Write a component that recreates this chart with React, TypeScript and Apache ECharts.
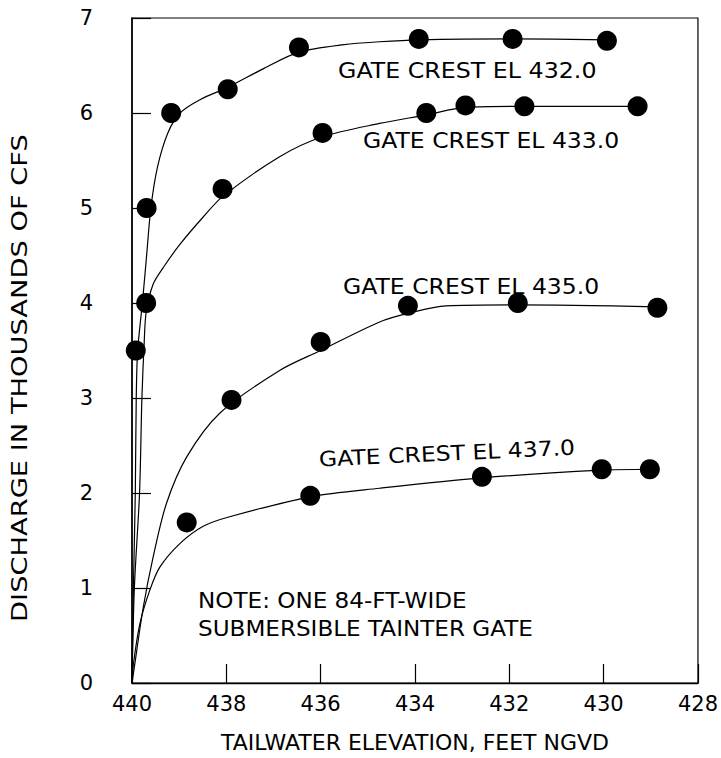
import { useEffect, useRef } from "react";
import * as echarts from "echarts";

// Axis ticks
const xTickValues = [440, 438, 436, 434, 432, 430, 428];
const yTickValues = [0, 1, 2, 3, 4, 5, 6, 7];

// Measured points (tailwater elevation, discharge in 1000 cfs)
const crest432Dots: [number, number][] = [
  [439.92, 3.5], [439.69, 5.0], [439.17, 6.0], [437.97, 6.25],
  [436.46, 6.69], [433.92, 6.78], [431.93, 6.78], [429.93, 6.76],
];
const crest433Dots: [number, number][] = [
  [439.7, 4.0], [438.08, 5.2], [435.96, 5.79], [433.76, 6.0],
  [432.93, 6.08], [431.68, 6.07], [429.28, 6.07],
];
const crest435Dots: [number, number][] = [
  [437.89, 2.98], [436.0, 3.59], [434.15, 3.97], [431.82, 4.0], [428.86, 3.95],
];
const crest437Dots: [number, number][] = [
  [438.84, 1.69], [436.22, 1.97], [432.58, 2.17], [430.04, 2.25], [429.02, 2.25],
];

// Fitted curves
const crest432Curve: [number, number][] = [
  [440, 0], [439.97, 1.0], [439.93, 2.0], [439.91, 3.0], [439.88, 3.5],
  [439.78, 4.0], [439.69, 4.5], [439.6, 5.0], [439.46, 5.43], [439.24, 5.79],
  [438.98, 6.0], [438.56, 6.14], [437.97, 6.27], [437.2, 6.47], [436.46, 6.64],
  [435.5, 6.72], [434.75, 6.75], [433.92, 6.77], [431.93, 6.78], [429.93, 6.77],
];
const crest433Curve: [number, number][] = [
  [440, 0], [439.95, 1.0], [439.84, 2.0], [439.79, 3.0], [439.74, 3.6],
  [439.7, 3.9], [439.55, 4.2], [439.3, 4.4], [438.98, 4.62], [438.5, 4.9],
  [438.08, 5.12], [436.87, 5.54], [435.96, 5.75], [434.75, 5.89], [433.76, 5.98],
  [432.93, 6.06], [431.68, 6.07], [429.28, 6.07],
];
const crest435Curve: [number, number][] = [
  [440, 0], [439.97, 0.1], [439.76, 0.8], [439.55, 1.33], [439.27, 1.89],
  [438.84, 2.38], [438.14, 2.84], [436.87, 3.29], [436.0, 3.5], [434.75, 3.8],
  [434.15, 3.89], [433.34, 3.97], [431.82, 3.98], [428.86, 3.96],
];
const crest437Curve: [number, number][] = [
  [440, 0], [439.97, 0.2], [439.83, 0.63], [439.62, 0.98], [439.41, 1.22],
  [438.98, 1.47], [438.49, 1.65], [437.93, 1.75], [436.22, 1.96], [434.75, 2.05],
  [432.58, 2.16], [430.04, 2.24], [429.02, 2.25],
];

const curveLabels = [
  "GATE CREST EL 432.0",
  "GATE CREST EL 433.0",
  "GATE CREST EL 435.0",
  "GATE CREST EL 437.0",
];
const noteLines = ["NOTE: ONE 84-FT-WIDE", "SUBMERSIBLE TAINTER GATE"];
const xTitle = "TAILWATER ELEVATION, FEET NGVD";
const yTitle = "DISCHARGE IN THOUSANDS OF CFS";

const INK = "#000";
const FONT = "DejaVu Sans";

export default function App() {
  const ref = useRef<HTMLDivElement>(null);

  useEffect(() => {
    document.body.style.margin = "0";
    if (!ref.current) return;
    const chart = echarts.init(ref.current, undefined, { renderer: "svg" });

    const curves = [crest432Curve, crest433Curve, crest435Curve, crest437Curve];
    const dots = [crest432Dots, crest433Dots, crest435Dots, crest437Dots];

    const lineSeries = curves.map((c, i) => ({
      type: "line",
      name: curveLabels[i] + " curve",
      data: c,
      smooth: 0.3,
      showSymbol: false,
      symbol: "none",
      lineStyle: { color: INK, width: 1.2 },
      z: 2,
    }));
    const dotSeries = dots.map((d, i) => ({
      type: "scatter",
      name: curveLabels[i],
      data: d,
      symbol: "circle",
      symbolSize: 20,
      itemStyle: { color: INK, opacity: 1 },
      z: 3,
    }));

    const annText = (text: string, x: number, y: number, sx: number, rot = 0) => ({
      type: "text",
      x,
      y,
      rotation: rot,
      scaleX: sx,
      style: {
        text,
        fill: INK,
        fontFamily: FONT,
        fontSize: 21,
        align: "left",
        verticalAlign: "middle",
      },
      z: 10,
    });

    chart.setOption({
      animation: false,
      backgroundColor: "#fff",
      grid: {
        left: 132,
        right: 22,
        top: 18,
        bottom: 74,
        show: true,
        borderColor: INK,
        borderWidth: 1.2,
        backgroundColor: "transparent",
      },
      xAxis: {
        type: "value",
        min: 428,
        max: 440,
        interval: 2,
        inverse: true,
        name: xTitle,
        nameLocation: "middle",
        nameGap: 48,
        nameTextStyle: { color: INK, fontFamily: FONT, fontSize: 22 },
        axisLine: { show: true, onZero: false, lineStyle: { color: INK, width: 1.3 } },
        axisTick: { show: true, inside: true, length: 19, lineStyle: { color: INK, width: 1.2 } },
        axisLabel: {
          color: INK,
          fontFamily: FONT,
          fontSize: 21,
          margin: 10,
          formatter: (v: number) => (xTickValues.includes(v) ? String(v) : ""),
        },
        splitLine: { show: false },
      },
      yAxis: {
        type: "value",
        min: 0,
        max: 7,
        interval: 1,
        axisLine: { show: true, onZero: false, lineStyle: { color: INK, width: 1.5 } },
        axisTick: { show: true, inside: true, length: 19, lineStyle: { color: INK, width: 1.2 } },
        axisLabel: {
          color: INK,
          fontFamily: FONT,
          fontSize: 21,
          margin: 39,
          formatter: (v: number) => (yTickValues.includes(v) ? String(v) : ""),
        },
        splitLine: { show: false },
      },
      graphic: [
        annText(curveLabels[0], 338, 71, 1.13),
        annText(curveLabels[1], 363, 140, 1.12),
        annText(curveLabels[2], 343, 286, 1.12),
        annText(curveLabels[3], 319, 459, 1.12, 0.046),
        annText(noteLines[0], 198, 601, 1.1),
        annText(noteLines[1], 198, 629, 1.1),
        {
          type: "text",
          x: 20,
          y: 378,
          rotation: Math.PI / 2,
          scaleX: 1.3,
          style: {
            text: yTitle,
            fill: INK,
            fontFamily: FONT,
            fontSize: 21,
            align: "center",
            verticalAlign: "middle",
          },
        },
      ],
      series: [...lineSeries, ...dotSeries],
    });

    return () => chart.dispose();
  }, []);

  return <div ref={ref} style={{ width: 721, height: 758 }} />;
}
